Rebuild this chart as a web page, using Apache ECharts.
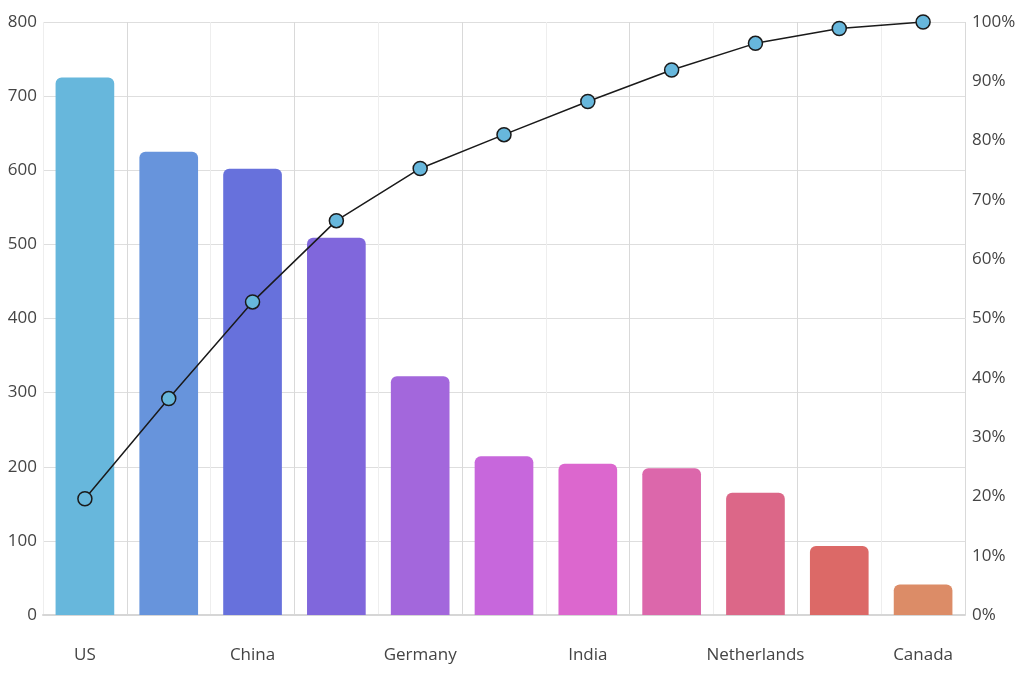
<!DOCTYPE html>
<html><head><meta charset="utf-8">
<script src="https://cdn.jsdelivr.net/npm/echarts@6/dist/echarts.min.js"></script>
<style>html,body{margin:0;padding:0;background:#fff}#c{width:1024px;height:690px}</style>
</head><body><div id="c"></div>
<script>
const categories = ["US","UK","China","Japan","Germany","France","India","Spain","Netherlands","Russia","Canada"];
const values = [725,625,602,509,322,214,204,198,165,93,41];
const cumulativePct = [19.6,36.5,52.8,66.5,75.3,81.0,86.6,91.9,96.4,98.9,100];
const barColors = ["#67b7dc","#6794dc","#6771dc","#8067dc","#a367dc","#c767dc","#dc67ce","#dc67ab","#dc6788","#dc6967","#dc8c67"];

const font = "'Open Sans', 'Noto Sans', sans-serif";
const chart = echarts.init(document.getElementById('c'), null, {renderer:'canvas'});
chart.setOption({
  animation:false,
  backgroundColor:'#fff',
  grid:{left:43,right:59,top:22,bottom:75,containLabel:false},
  xAxis:{
    type:'category', data:categories, boundaryGap:true,
    axisLine:{show:true,lineStyle:{color:'#d6d6d6',width:2}},
    axisTick:{show:false},
    axisLabel:{interval:1,margin:32,color:'#444',fontSize:17,fontFamily:font},
    splitLine:{show:true,interval:0,lineStyle:{color:['#eeeeee','#d9d9d9'],width:1}}
  },
  yAxis:[{
    type:'value',min:0,max:800,interval:100,
    axisLine:{show:false},axisTick:{show:false},
    axisLabel:{color:'#444',fontSize:17,fontFamily:font,margin:6},
    splitLine:{lineStyle:{color:'#dedede',width:1}}
  },{
    type:'value',min:0,max:100,interval:10,position:'right',
    axisLine:{show:false},axisTick:{show:false},
    axisLabel:{color:'#444',fontSize:17,fontFamily:font,margin:7,formatter:'{value}%'},
    splitLine:{show:false}
  }],
  series:[{
    type:'bar', yAxisIndex:0, barWidth:'70%',
    data: values.map((v,i)=>({value:v,itemStyle:{color:barColors[i]}})),
    itemStyle:{borderRadius:[6,6,0,0]}
  },{
    type:'line', yAxisIndex:1, data:cumulativePct,
    symbol:'circle', symbolSize:14,
    lineStyle:{color:'#1a1a1a',width:1.5},
    itemStyle:{color:'#67b7dc',borderColor:'#1a1a1a',borderWidth:1.5},
    z:5
  }]
});
</script></body></html>
